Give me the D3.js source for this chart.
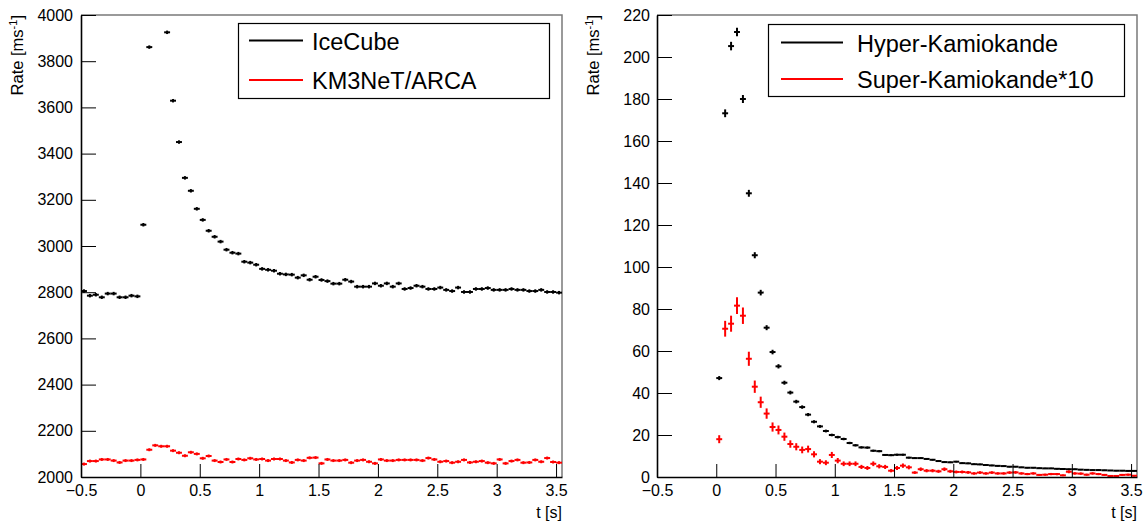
<!DOCTYPE html>
<html lang="en">
<head>
<meta charset="utf-8">
<title>Supernova neutrino rates</title>
<script src="https://d3js.org/d3.v7.min.js"></script>
<style>
  body { margin: 0; background: #fff; }
  svg { display: block; font-family: "Liberation Sans", Arial, Helvetica, sans-serif; }
</style>
</head>
<body>
<script>
// time bins, 0.05 s wide, low edges from -0.5 s to 3.5 s (81 bins)
const binWidth = 0.05;
const binLow = d3.range(81).map(i => Math.round((-0.5 + i * binWidth) * 1000) / 1000);

// left pad: rate in ms^-1
const iceCube = [
  2805, 2785, 2789, 2778, 2794, 2794, 2778, 2778, 2785, 2782,
  3092, 3861, 4120, 4050, 3925, 3629, 3450, 3295, 3239, 3161,
  3113, 3066, 3040, 3019, 2984, 2971, 2967, 2932, 2928, 2919,
  2901, 2897, 2893, 2880, 2877, 2876, 2863, 2873, 2854, 2867,
  2853, 2848, 2837, 2837, 2854, 2846, 2824, 2824, 2824, 2838,
  2828, 2838, 2824, 2838, 2814, 2818, 2828, 2824, 2814, 2814,
  2820, 2810, 2805, 2820, 2801, 2801, 2814, 2814, 2818, 2810,
  2810, 2810, 2814, 2810, 2810, 2805, 2805, 2810, 2801, 2801,
  2798
];
const iceCubeErr = 7.5;

const arca = [
  2056, 2069, 2069, 2076, 2076, 2071, 2063, 2071, 2071, 2074,
  2076, 2118, 2137, 2133, 2133, 2114, 2105, 2092, 2107, 2100,
  2081, 2091, 2071, 2065, 2076, 2065, 2078, 2074, 2081, 2076,
  2078, 2071, 2078, 2078, 2071, 2063, 2074, 2071, 2083, 2084,
  2059, 2076, 2071, 2071, 2074, 2062, 2071, 2074, 2066, 2059,
  2076, 2071, 2071, 2074, 2074, 2074, 2074, 2071, 2082, 2076,
  2066, 2069, 2062, 2066, 2074, 2063, 2066, 2069, 2062, 2059,
  2076, 2059, 2069, 2074, 2062, 2063, 2074, 2066, 2082, 2065,
  2062
];
const arcaErr = 6.4;

// right pad
const hyperK = [
  0, 0, 0, 0, 0, 0, 0, 0, 0, 0,
  47.1, 173.2, 205.2, 211.9, 180.0, 135.1, 105.6, 87.8, 71.1, 59.5,
  52.7, 44.9, 40.2, 35.9, 33.3, 29.7, 26.3, 24.1, 21.9, 20.0,
  19.0, 18.1, 16.2, 15.1, 14.1, 14.0, 12.5, 12.3, 10.5, 10.4,
  10.6, 10.6, 9.2, 9.0, 9.0, 8.6, 8.2, 7.6, 7.1, 7.0,
  7.3, 6.6, 6.5, 6.1, 6.0, 5.7, 5.5, 5.3, 5.2, 4.9,
  4.9, 4.6, 4.4, 4.4, 4.2, 4.1, 4.1, 3.9, 3.8, 3.7,
  3.7, 3.5, 3.4, 3.3, 3.3, 3.2, 3.1, 3.0, 3.0, 2.9,
  2.9
];
const hyperKErr = [
  0, 0, 0, 0, 0, 0, 0, 0, 0, 0,
  0.97, 1.86, 2.03, 2.06, 1.90, 1.64, 1.45, 1.33, 1.19, 1.09,
  1.03, 0.95, 0.90, 0.85, 0.82, 0.77, 0.73, 0.69, 0.66, 0.63,
  0.62, 0.60, 0.57, 0.55, 0.53, 0.53, 0.50, 0.50, 0.46, 0.46,
  0.46, 0.46, 0.43, 0.42, 0.42, 0.41, 0.40, 0.39, 0.38, 0.37,
  0.37, 0.38, 0.36, 0.36, 0.35, 0.35, 0.34, 0.33, 0.33, 0.32,
  0.31, 0.31, 0.30, 0.30, 0.29, 0.29, 0.29, 0.28, 0.28, 0.28,
  0.27, 0.27, 0.26, 0.26, 0.26, 0.25, 0.25, 0.25, 0.24, 0.24,
  0.24
];

const superK10 = [
  0, 0, 0, 0, 0, 0, 0, 0, 0, 0,
  18.0, 70.6, 73.0, 81.6, 76.8, 56.3, 43.0, 35.6, 30.2, 23.8,
  22.4, 19.2, 15.7, 14.4, 12.9, 13.3, 10.8, 7.3, 6.8, 10.5,
  7.8, 6.3, 6.3, 6.3, 4.8, 4.3, 6.3, 5.1, 4.8, 3.0,
  4.3, 5.4, 4.6, 2.1, 3.7, 3.0, 3.0, 2.7, 3.7, 2.7,
  2.4, 2.4, 2.2, 1.7, 2.1, 1.7, 2.1, 1.7, 1.7, 2.1,
  2.2, 1.7, 1.4, 1.7, 1.0, 1.1, 1.4, 1.4, 0.8, 2.5,
  1.7, 1.6, 1.1, 1.7, 1.4, 1.0, 0.5, 0.5, 1.0, 1.1,
  0.6
];
const superK10Err = [
  0, 0, 0, 0, 0, 0, 0, 0, 0, 0,
  1.90, 3.76, 3.82, 4.04, 3.92, 3.36, 2.93, 2.67, 2.46, 2.18,
  2.12, 1.96, 1.77, 1.70, 1.61, 1.63, 1.47, 1.21, 1.17, 1.45,
  1.25, 1.12, 1.12, 1.12, 0.98, 0.93, 1.12, 1.01, 0.98, 0.77,
  0.93, 1.04, 0.96, 0.65, 0.86, 0.77, 0.77, 0.73, 0.86, 0.73,
  0.69, 0.69, 0.66, 0.58, 0.65, 0.58, 0.65, 0.58, 0.58, 0.65,
  0.66, 0.58, 0.53, 0.58, 0.45, 0.47, 0.53, 0.53, 0.40, 0.71,
  0.58, 0.57, 0.47, 0.58, 0.53, 0.45, 0.32, 0.32, 0.45, 0.47,
  0.35
];

const xTicks = [-0.5, 0, 0.5, 1, 1.5, 2, 2.5, 3, 3.5];
const xTickLabels = ["\u22120.5", "0", "0.5", "1", "1.5", "2", "2.5", "3", "3.5"];
const leftYTicks = [2000, 2200, 2400, 2600, 2800, 3000, 3200, 3400, 3600, 3800, 4000];
const rightYTicks = [0, 20, 40, 60, 80, 100, 120, 140, 160, 180, 200, 220];

const W = 1143, H = 524;
const svg = d3.select("body").append("svg")
  .attr("width", W)
  .attr("height", H);

function drawPanel(p) {
  const x = d3.scaleLinear().domain([-0.5, 3.55]).range([p.x0, p.x1]);
  const y = d3.scaleLinear().domain(p.yDomain).range([p.y1, p.y0]);
  const g = svg.append("g");

  g.append("clipPath").attr("id", p.id + "-clip")
    .append("rect")
    .attr("x", p.x0).attr("y", p.y0)
    .attr("width", p.x1 - p.x0).attr("height", p.y1 - p.y0);

  // grey frame on top / right
  g.append("path")
    .attr("d", `M${p.x0},${p.y0}H${p.x1}V${p.y1}`)
    .attr("fill", "none")
    .attr("stroke", "#7a7a7a")
    .attr("stroke-width", 1.5);

  // histograms drawn as error crosses
  const data = g.append("g").attr("clip-path", `url(#${p.id}-clip)`);
  p.series.forEach(s => {
    const pts = binLow.map((lo, i) => ({
      lo: lo,
      v: s.values[i],
      e: Array.isArray(s.err) ? s.err[i] : s.err
    })).filter(d => d.v > 0 && d.v >= p.yDomain[0] && d.v <= p.yDomain[1]);

    const sg = data.append("g").attr("stroke", s.color).attr("stroke-width", 2);
    sg.selectAll("line.h").data(pts).join("line")
      .attr("class", "h")
      .attr("x1", d => x(d.lo))
      .attr("x2", d => x(d.lo + binWidth))
      .attr("y1", d => y(d.v))
      .attr("y2", d => y(d.v));
    sg.selectAll("line.v").data(pts).join("line")
      .attr("class", "v")
      .attr("x1", d => x(d.lo + binWidth / 2))
      .attr("x2", d => x(d.lo + binWidth / 2))
      .attr("y1", d => y(d.v - d.e))
      .attr("y2", d => y(d.v + d.e));
  });

  // x axis (ticks point inward)
  const xMinor = d3.range(-5, 36).map(k => k / 10).filter(v => !xTicks.includes(v));
  const xa = g.append("g").attr("transform", `translate(0,${p.y1})`);
  xa.call(d3.axisBottom(x).tickValues(xMinor).tickSize(-7).tickSizeOuter(0).tickFormat(""));
  xa.call(d3.axisBottom(x).tickValues(xTicks).tickSize(-13).tickSizeOuter(0)
    .tickPadding(8).tickFormat((d, i) => xTickLabels[i]));
  xa.selectAll("path.domain").attr("stroke-width", 1.6);
  xa.selectAll("text").attr("font-size", 16).attr("fill", "#000");
  xa.attr("font-family", null);

  // y axis
  const step = p.yTicks[1] - p.yTicks[0];
  const yMinor = d3.range(p.yDomain[0], p.yDomain[1] + 1e-9, step / 5)
    .filter(v => !p.yTicks.includes(Math.round(v * 1000) / 1000));
  const ya = g.append("g").attr("transform", `translate(${p.x0},0)`);
  ya.call(d3.axisLeft(y).tickValues(yMinor).tickSize(-7).tickSizeOuter(0).tickFormat(""));
  ya.call(d3.axisLeft(y).tickValues(p.yTicks).tickSize(-15).tickSizeOuter(0)
    .tickPadding(p.yPad).tickFormat(d3.format("d")));
  ya.selectAll("path.domain").attr("stroke-width", 1.6);
  ya.selectAll("text").attr("font-size", 16).attr("fill", "#000");
  ya.attr("font-family", null);

  // axis titles
  g.append("text")
    .attr("x", p.x1).attr("y", 518)
    .attr("text-anchor", "end")
    .attr("font-size", 16)
    .text("t [s]");

  const yt = g.append("text")
    .attr("transform", `translate(${p.x0 - 58},${p.y0}) rotate(-90)`)
    .attr("text-anchor", "end")
    .attr("font-size", 16.5);
  yt.append("tspan").text("Rate [ms");
  yt.append("tspan").attr("dy", -6).attr("font-size", 11).text("-1");
  yt.append("tspan").attr("dy", 6).text("]");

  // legend
  const L = p.legend;
  const lg = g.append("g");
  lg.append("rect")
    .attr("x", L.x).attr("y", L.y)
    .attr("width", L.w).attr("height", L.h)
    .attr("fill", "#fff").attr("stroke", "#000").attr("stroke-width", 1.2);
  p.series.forEach((s, i) => {
    const ly = L.rows[i];
    lg.append("line")
      .attr("x1", L.lineX0).attr("x2", L.lineX1)
      .attr("y1", ly).attr("y2", ly)
      .attr("stroke", s.color).attr("stroke-width", 2);
    lg.append("text")
      .attr("x", L.textX).attr("y", ly + 9)
      .attr("font-size", 23.5)
      .text(s.name);
  });
}

drawPanel({
  id: "left",
  x0: 81, x1: 562, y0: 15, y1: 477,
  yDomain: [2000, 4000],
  yTicks: leftYTicks,
  yPad: 8,
  series: [
    { name: "IceCube", values: iceCube, err: iceCubeErr, color: "#000" },
    { name: "KM3NeT/ARCA", values: arca, err: arcaErr, color: "#ff0000" }
  ],
  legend: { x: 238.5, y: 23.5, w: 311, h: 75, rows: [40.5, 80], lineX0: 249, lineX1: 303, textX: 312 }
});

drawPanel({
  id: "right",
  x0: 657, x1: 1137, y0: 15, y1: 477,
  yDomain: [0, 220],
  yTicks: rightYTicks,
  yPad: 7,
  series: [
    { name: "Hyper-Kamiokande", values: hyperK, err: hyperKErr, color: "#000" },
    { name: "Super-Kamiokande*10", values: superK10, err: superK10Err, color: "#ff0000" }
  ],
  legend: { x: 768.5, y: 24.5, w: 356, h: 72, rows: [42.5, 79], lineX0: 781, lineX1: 843, textX: 857 }
});
</script>
</body>
</html>
